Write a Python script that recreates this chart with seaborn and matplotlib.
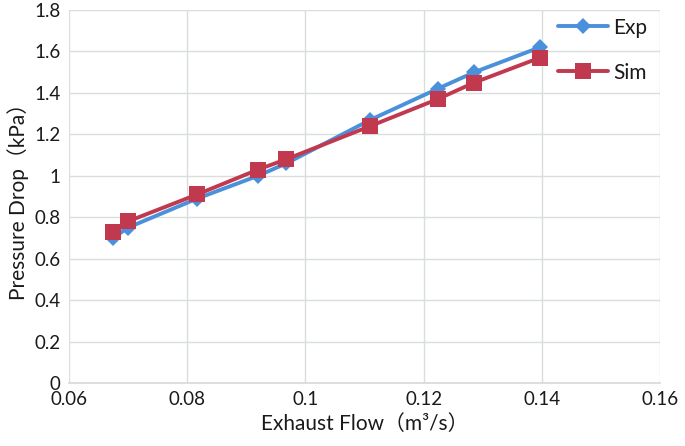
import matplotlib
matplotlib.use("Agg")
import matplotlib.pyplot as plt
import seaborn as sns
import pandas as pd
from matplotlib.ticker import FuncFormatter

flow = [0.0675, 0.0700, 0.0817, 0.0920, 0.0968, 0.1110, 0.1224, 0.1286, 0.1397]
exp_dp = [0.70, 0.75, 0.89, 1.00, 1.06, 1.27, 1.42, 1.50, 1.62]
sim_dp = [0.73, 0.78, 0.91, 1.03, 1.08, 1.24, 1.37, 1.45, 1.57]
series = ["Exp", "Sim"]

df = pd.DataFrame({
    "flow": flow + flow,
    "dp": exp_dp + sim_dp,
    "series": [series[0]] * len(flow) + [series[1]] * len(flow),
})

sns.set_theme(style="white")
plt.rcParams["font.family"] = ["Lato", "Noto Sans CJK SC", "DejaVu Sans"]

fig = plt.figure(figsize=(6.85, 4.46), dpi=100)
ax = fig.add_axes([0.1007, 0.1413, 0.8628, 0.8363])

palette = {"Exp": "#4A90DA", "Sim": "#C0394E"}
markers = {"Exp": "D", "Sim": "s"}
sizes_m = {"Exp": 8, "Sim": 11}
for s in series:
    sub = df[df["series"] == s]
    sns.lineplot(data=sub, x="flow", y="dp", ax=ax, color=palette[s], marker=markers[s],
                 markersize=sizes_m[s], markeredgewidth=0, linewidth=2.8, label=s,
                 zorder=3 if s == "Sim" else 2)

ax.set_xlim(0.06, 0.16)
ax.set_ylim(0, 1.8)
ax.set_xticks([0.06, 0.08, 0.10, 0.12, 0.14, 0.16])
ax.set_yticks([0, 0.2, 0.4, 0.6, 0.8, 1.0, 1.2, 1.4, 1.6, 1.8])
ax.xaxis.set_major_formatter(FuncFormatter(lambda v, p: ("%.2f" % v).rstrip("0").rstrip(".")))
ax.yaxis.set_major_formatter(FuncFormatter(lambda v, p: ("%.1f" % v).rstrip("0").rstrip(".")))
ax.grid(True, color="#D9DEDC", linewidth=1)
for sp in ["top", "right", "left"]:
    ax.spines[sp].set_visible(False)
ax.spines["bottom"].set_color("#D9D9D9")
ax.tick_params(axis="both", length=0, labelsize=13.5, colors="#1A1A1A", pad=6)

ax.set_xlabel("Exhaust Flow（m³/s）", fontsize=15, color="#1A1A1A", labelpad=4)
ax.set_ylabel("Pressure Drop（kPa）", fontsize=15, color="#1A1A1A", labelpad=4)

leg = ax.legend(loc="upper right", bbox_to_anchor=(1.01, 1.03), frameon=False, fontsize=15,
                handlelength=2.4, labelspacing=1.2, handletextpad=0.25)
for t in leg.get_texts():
    t.set_color("#1A1A1A")

fig.savefig("out.png", dpi=100)
